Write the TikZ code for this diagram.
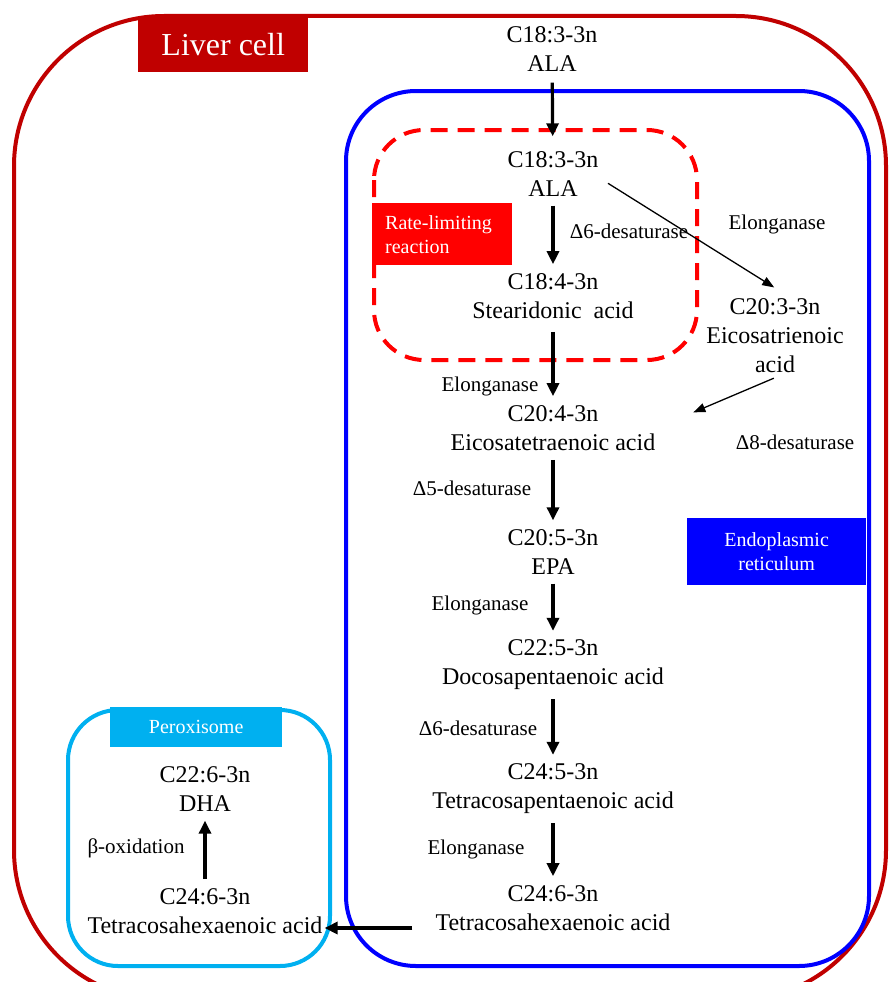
\documentclass[tikz,border=0pt]{standalone}
\usepackage{fontspec}
\setmainfont{Liberation Serif}
\usepackage{tikz}
\usetikzlibrary{positioning, arrows.meta}

\definecolor{livered}{HTML}{C00000}
\definecolor{erblue}{HTML}{0000FF}
\definecolor{ratered}{HTML}{FF0000}
\definecolor{peroxcyan}{HTML}{00B0F0}

\begin{document}
\begin{tikzpicture}[x=1pt, y=-1pt,
  compound/.style={
    align=center, font=\fontsize{24}{29}\selectfont, inner sep=1pt
  },
  enzyme/.style={
    font=\fontsize{21}{25}\selectfont, inner sep=1pt
  },
  tag/.style={
    fill=#1, text=white, align=center, inner sep=0pt, anchor=north west
  },
  membrane/.style={
    draw=#1, line width=4pt
  },
  arrow/.style={
    -{Triangle[length=13pt,width=12pt]}, line width=3.2pt,
    shorten <=8pt, shorten >=8pt
  },
  thinarrow/.style={
    -{Triangle[length=12pt,width=9pt]}, line width=1.3pt
  }
]
\useasboundingbox (0,0) rectangle (890,982);
\clip (0,0) rectangle (890,982);

% Compartments
\draw[membrane=livered, rounded corners=150pt] (14,16) rectangle (886,1000);
\draw[membrane=erblue, rounded corners=70pt] (346,91) rectangle (869,966);
\draw[membrane=ratered, dash pattern=on 17pt off 10pt, rounded corners=50pt] (374,130) rectangle (697,360);
\draw[membrane=peroxcyan, rounded corners=50pt] (68,710) rectangle (330,966);

% Compartment tags
\node[tag=livered, minimum width=170pt, minimum height=56pt, font=\fontsize{32}{36}\selectfont] (livertag) at (138,16) {Liver cell};
\node[tag=ratered, text width=114pt, align=left, inner xsep=13pt, minimum height=62pt, font=\fontsize{20}{24}\selectfont] (ratetag) at (372,203) {Rate-limiting\\reaction};
\node[tag=erblue, minimum width=179pt, minimum height=67pt, font=\fontsize{20}{24}\selectfont] (ertag) at (687,518) {Endoplasmic\\reticulum};
\node[tag=peroxcyan, minimum width=172pt, minimum height=40pt, font=\fontsize{20}{24}\selectfont] (peroxtag) at (110,707) {Peroxisome};

% Main chain (endoplasmic reticulum)
\node[compound] (ala0) at (552,49) {C18:3-3n\\ALA};
\node[compound] (ala) at (553,174) {C18:3-3n\\ALA};
\node[compound] (sda) at (553,296) {C18:4-3n\\Stearidonic\ \ acid};
\node[compound] (eta4) at (553,428) {C20:4-3n\\Eicosatetraenoic acid};
\node[compound] (epa) at (553,552) {C20:5-3n\\EPA};
\node[compound] (dpa) at (553,665) {C22:5-3n\\Docosapentaenoic acid};
\node[compound] (tpa) at (553,789) {C24:5-3n\\Tetracosapentaenoic acid};
\node[compound] (tha) at (553,908) {C24:6-3n\\Tetracosahexaenoic acid};

% Side branch
\node[compound] (eta3) at (775,336) {C20:3-3n\\Eicosatrienoic\\acid};

% Peroxisome
\node[compound] (dha) at (205,789) {C22:6-3n\\DHA};
\node[compound] (ptha) at (205,911) {C24:6-3n\\Tetracosahexaenoic acid};

% Enzymes
\node[enzyme] (d6a) at (629,231) {Δ6-desaturase};
\node[enzyme] (el1) at (490,386) {Elonganase};
\node[enzyme] (d5) at (472,488) {Δ5-desaturase};
\node[enzyme] (el2) at (480,605) {Elonganase};
\node[enzyme] (d6b) at (478,728) {Δ6-desaturase};
\node[enzyme] (el3) at (476,849) {Elonganase};
\node[enzyme] (elside) at (777,224) {Elonganase};
\node[enzyme] (d8) at (795,442) {Δ8-desaturase};
\node[enzyme] (box) at (136,848) {β-oxidation};

% Main flow
\draw[arrow, shorten <=10pt, shorten >=14pt] (ala0) -- (ala);
\draw[arrow] (ala) -- (sda);
\draw[arrow, shorten <=12pt] (sda) -- (eta4);
\draw[arrow] (eta4) -- (epa);
\draw[arrow] (epa) -- (dpa);
\draw[arrow] (dpa) -- (tpa);
\draw[arrow] (tpa) -- (tha);

% Side branch flow
\draw[thinarrow, shorten <=10pt, shorten >=8pt] ([yshift=-4pt]ala.east) -- ([xshift=6pt,yshift=6pt]eta3.north);
\draw[thinarrow, shorten <=10pt, shorten >=40pt] ([xshift=8pt]eta3.south) -- (eta4.east);

% Transfer to peroxisome
\coordinate (thaout) at ([yshift=-20pt]tha.west);
\draw[arrow, shorten <=22pt, shorten >=1pt] (thaout) -- (thaout -| ptha.east);
\draw[arrow, shorten <=8pt, shorten >=8pt] (ptha) -- (dha);

\end{tikzpicture}
\end{document}
